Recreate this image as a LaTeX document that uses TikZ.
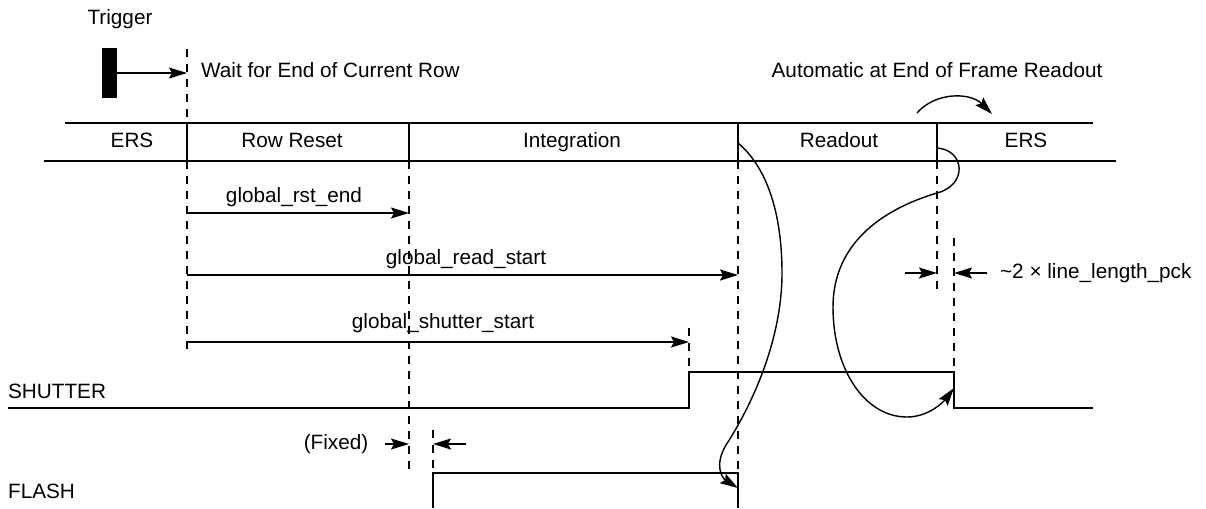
\documentclass[tikz,border=0pt]{standalone}
\usepackage{fontspec}
\setmainfont{Liberation Sans}
\usetikzlibrary{arrows.meta}

\begin{document}
\begin{tikzpicture}[
  x=0.02cm, y=-0.02cm,
  font=\fontsize{11.8}{14}\selectfont,
  inner sep=1pt, text height=1.6ex, text depth=0.4ex,
  tline/.style={line width=1.1pt},
  sig/.style={line width=0.8pt},
  guide/.style={line width=0.9pt, dash pattern=on 1.6mm off 1.4mm},
  arr/.style={-{Stealth[length=3.6mm, width=2.2mm, inset=0.6mm]}, line width=0.9pt},
  swoop/.style={-{Stealth[length=3.6mm, width=2.2mm, inset=0.6mm]}, line width=0.8pt},
]
\useasboundingbox (0,0) rectangle (1206,508);

% --- Trigger ---
\node (trig) at (120,19) {Trigger};
\node[fill=black, inner sep=0pt, text height=, text depth=, minimum width=0.3cm, minimum height=1cm] (bar) at (109.5,73) {};
\coordinate (trig-end) at (187,73);
\draw[arr] (bar.east) -- (trig-end);
\node[anchor=west] (wait) at (199,72) {Wait for End of Current Row};
\node (auto) at (937,72) {Automatic at End of Frame Readout};

% --- Mode table ---
\coordinate (tbl-tl) at (65,123);
\coordinate (tbl-tr) at (1093,123);
\coordinate (tbl-bl) at (44,161);
\coordinate (tbl-br) at (1116,161);
\draw[tline] (tbl-tl) -- (tbl-tr);
\draw[tline] (tbl-bl) -- (tbl-br);
\foreach \x in {187,409,738,937}
  \draw[tline] (\x,123) -- (\x,161);
\node (ers1) at (132,142) {ERS};
\node (rowrst) at (292,142) {Row Reset};
\node (integ) at (572,142) {Integration};
\node (rdout) at (839,142) {Readout};
\node (ers2) at (1026,142) {ERS};

% --- Dashed time markers ---
\draw[guide] (187,49) -- (187,123);
\draw[guide] (187,161) -- (187,355);
\draw[guide] (409,161) -- (409,475);
\draw[guide] (738,161) -- (738,473);
\draw[guide] (937,161) -- (937,295);
\draw[guide] (954,238) -- (954,372);
\draw[guide] (689,328) -- (689,372);
\draw[guide] (433,430) -- (433,473);

% --- Register timings ---
\coordinate (rst-a) at (187,213);
\coordinate (rst-b) at (409,213);
\coordinate (rd-a) at (187,275);
\coordinate (rd-b) at (738,275);
\coordinate (sh-a) at (187,342);
\coordinate (sh-b) at (689,342);
\node (rstlbl) at (294,197) {global\_rst\_end};
\node (rdlbl) at (466,259) {global\_read\_start};
\node (shlbl) at (443,323) {global\_shutter\_start};
\draw[arr] (rst-a) -- (rst-b);
\draw[arr] (rd-a) -- (rd-b);
\draw[arr] (sh-a) -- (sh-b);

% --- Line length gap ---
\coordinate (gap-l) at (905,273);
\coordinate (gap-la) at (937,273);
\coordinate (gap-r) at (987,273);
\coordinate (gap-ra) at (954,273);
\draw[arr] (gap-l) -- (gap-la);
\draw[arr] (gap-r) -- (gap-ra);
\node[anchor=west] (gaplbl) at (998,273) {\textasciitilde 2 × line\_length\_pck};

% --- SHUTTER signal ---
\node[anchor=west] (shutter) at (6,393) {SHUTTER};
\coordinate (shut-l) at (8,408);
\coordinate (shut-r) at (1093,408);
\draw[sig] (shut-l) -- (689,408) -- (689,372) -- (954,372) -- (954,408) -- (shut-r);

% --- Fixed offset ---
\node (fixed) at (336,444) {(Fixed)};
\coordinate (fix-l) at (385,444);
\coordinate (fix-la) at (409,444);
\coordinate (fix-r) at (466,444);
\coordinate (fix-ra) at (433,444);
\draw[arr] (fix-l) -- (fix-la);
\draw[arr] (fix-r) -- (fix-ra);

% --- FLASH signal ---
\node[anchor=west] (flash) at (6,493) {FLASH};
\draw[sig] (433,508) -- (433,473) -- (738,473) -- (738,508);

% --- Curved arrows ---
\coordinate (ro-start) at (738,143);
\coordinate (fl-end) at (738,488);
\coordinate (ers-start) at (937,148);
\coordinate (sh-fall) at (954,388);
\coordinate (au-a) at (917,113);
\coordinate (au-b) at (992,114);
\draw[swoop] (au-a) .. controls (935,92) and (970,92) .. (au-b);
\draw[swoop] (ro-start) .. controls (770,170) and (782,220) .. (782,273)
  .. controls (782,340) and (752,405) .. (726,445)
  .. controls (714,465) and (722,478) .. (fl-end);
\draw[swoop] (ers-start) .. controls (965,150) and (968,185) .. (937,193)
  .. controls (880,210) and (833,245) .. (833,307)
  .. controls (833,370) and (865,417) .. (907,417)
  .. controls (930,417) and (945,400) .. (sh-fall);

\end{tikzpicture}
\end{document}
